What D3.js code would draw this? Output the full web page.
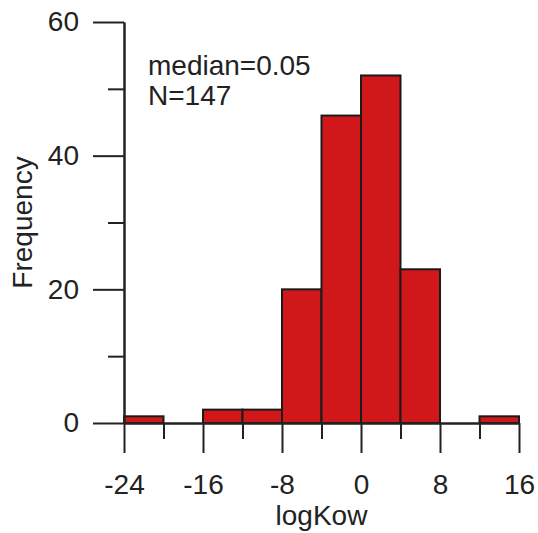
<!DOCTYPE html>
<html>
<head>
<meta charset="utf-8">
<script src="https://cdn.jsdelivr.net/npm/d3@7"></script>
<style>
  body { margin: 0; background: #fff; }
  svg { display: block; }
  text { font-family: "Liberation Sans", Arial, sans-serif; fill: #222; }
</style>
</head>
<body>
<div id="chart"></div>
<script>
// histogram bins (logKow) and their counts
const binStarts = [-24, -20, -16, -12, -8, -4, 0, 4, 8, 12];
const binWidth = 4;
const counts = [1, 0, 2, 2, 20, 46, 52, 23, 0, 1];
const xTicks = [-24, -16, -8, 0, 8, 16];
const xMinorTicks = [-20, -12, -4, 4, 12];
const yTicks = [0, 20, 40, 60];
const yMinorTicks = [10, 30, 50];
const notes = ["median=0.05", "N=147"];

const W = 538, H = 533;
const margin = { left: 124, right: 19, top: 22, bottom: 110 };
const fontSize = "28px";

const svg = d3.select("#chart").append("svg")
  .attr("width", W)
  .attr("height", H);

const x = d3.scaleLinear().domain([-24, 16]).range([margin.left, W - margin.right]);
const y = d3.scaleLinear().domain([0, 60]).range([H - margin.bottom, margin.top]);

const bins = binStarts.map((s, i) => ({ x0: s, x1: s + binWidth, n: counts[i] }));

svg.append("g")
  .selectAll("rect")
  .data(bins.filter(d => d.n > 0))
  .enter()
  .append("rect")
    .attr("x", d => x(d.x0))
    .attr("y", d => y(d.n))
    .attr("width", d => x(d.x1) - x(d.x0))
    .attr("height", d => y(0) - y(d.n))
    .attr("fill", "#d0181b")
    .attr("stroke", "#1a1a1a")
    .attr("stroke-width", 2);

const styleAxis = g => {
  g.selectAll("path, line").attr("stroke", "#222").attr("stroke-width", 2);
  g.selectAll("text").style("font-size", fontSize).attr("fill", "#222");
};

// plain hyphen for negatives, like the original
const fmt = d => String(d);

// y axis
svg.append("g")
  .attr("transform", `translate(${margin.left},0)`)
  .call(d3.axisLeft(y).tickValues(yMinorTicks).tickSize(16).tickSizeOuter(0).tickFormat(""))
  .call(styleAxis);
svg.append("g")
  .attr("transform", `translate(${margin.left},0)`)
  .call(d3.axisLeft(y).tickValues(yTicks).tickSize(31).tickSizeOuter(0).tickPadding(14).tickFormat(fmt))
  .call(styleAxis);

// x axis
svg.append("g")
  .attr("transform", `translate(0,${y(0)})`)
  .call(d3.axisBottom(x).tickValues(xMinorTicks).tickSize(16).tickSizeOuter(0).tickFormat(""))
  .call(styleAxis);
svg.append("g")
  .attr("transform", `translate(0,${y(0)})`)
  .call(d3.axisBottom(x).tickValues(xTicks).tickSize(30).tickSizeOuter(0).tickPadding(21).tickFormat(fmt))
  .call(styleAxis);

// axis titles
svg.append("text")
  .attr("x", (x.range()[0] + x.range()[1]) / 2)
  .attr("y", 525)
  .attr("text-anchor", "middle")
  .style("font-size", fontSize)
  .text("logKow");

svg.append("text")
  .attr("transform", `translate(32,${(y.range()[0] + y.range()[1]) / 2}) rotate(-90)`)
  .attr("text-anchor", "middle")
  .style("font-size", fontSize)
  .text("Frequency");

// annotation
svg.append("g")
  .selectAll("text")
  .data(notes)
  .enter()
  .append("text")
    .attr("x", 148)
    .attr("y", (d, i) => 75 + i * 30)
    .style("font-size", fontSize)
    .text(d => d);
</script>
</body>
</html>
